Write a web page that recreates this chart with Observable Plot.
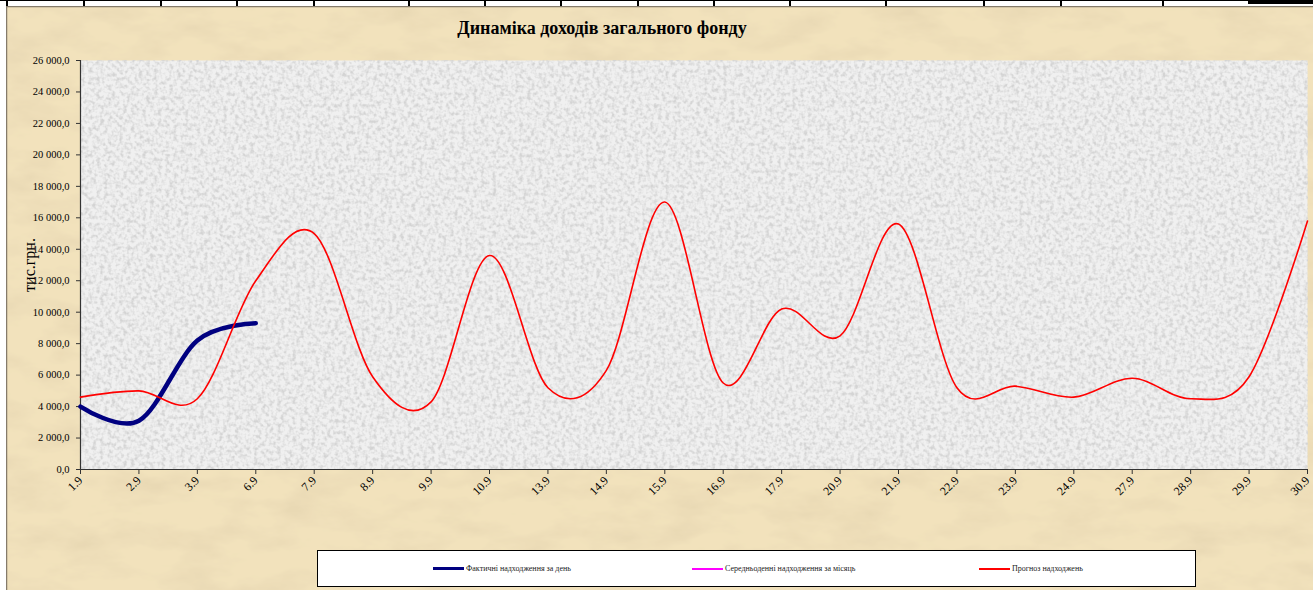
<!DOCTYPE html>
<html>
<head>
<meta charset="utf-8">
<script src="https://cdn.jsdelivr.net/npm/d3@7"></script>
<script src="https://cdn.jsdelivr.net/npm/@observablehq/plot@0.6"></script>
<style>
  html, body { margin: 0; padding: 0; background: #fff; }
  #wrap { position: relative; width: 1313px; height: 590px; overflow: hidden; font-family: "Liberation Serif", "Times New Roman", serif; }
  #bg { position: absolute; left: 0; top: 0; }
  #chart { position: absolute; left: 0; top: 0; }
  #title { position: absolute; left: 0; width: 1204px; top: 18px; text-align: center; font-size: 18px; font-weight: bold; color: #000; }
  #legend { position: absolute; left: 317px; top: 550px; width: 877px; height: 35px; background: #fff; border: 1px solid #000; }
  .li { position: absolute; top: 0; height: 35px; display: flex; align-items: center; font-size: 8px; color: #222; white-space: nowrap; }
  .li span.sw { display: inline-block; width: 31px; margin-right: 2px; }
  #strip { position: absolute; left: 0; top: 0; width: 1313px; height: 6px; background: #fff; }
  #chart svg [aria-label="y-axis label"] text { font-size: 16px; }
</style>
</head>
<body>
<div id="wrap">
  <svg id="bg" width="1313" height="590">
    <defs>
      <filter id="tanTex" filterUnits="userSpaceOnUse" x="0" y="0" width="1313" height="590">
        <feTurbulence type="fractalNoise" baseFrequency="0.018 0.04" numOctaves="4" seed="7" result="n"/>
        <feColorMatrix in="n" type="matrix" values="0 0 0 0 0.80  0 0 0 0 0.68  0 0 0 0 0.45  1.9 0 0 0 -0.78" result="spots"/>
        <feMerge><feMergeNode in="SourceGraphic"/><feMergeNode in="spots"/></feMerge>
      </filter>
      <filter id="greyTex" x="0" y="0" width="1" height="1">
        <feTurbulence type="fractalNoise" baseFrequency="0.26" numOctaves="2" seed="3" result="n"/>
        <feColorMatrix in="n" type="matrix" values="0 0 0 0 0.66  0 0 0 0 0.66  0 0 0 0 0.66  2.8 0 0 0 -1.15" result="spots"/>
        <feMerge><feMergeNode in="SourceGraphic"/><feMergeNode in="spots"/></feMerge>
      </filter>
    </defs>
    <rect x="0" y="0" width="1313" height="590" fill="#F2E2BC" filter="url(#tanTex)"/>
    <line x1="6.5" y1="6" x2="6.5" y2="590" stroke="#857b6b" stroke-width="1.5"/>
    <line x1="6" y1="6.5" x2="1313" y2="6.5" stroke="#857b6b" stroke-width="1.5"/>
    <rect x="0" y="0" width="6" height="590" fill="#fff"/>
  </svg>
  <div id="strip"></div>
  <div id="chart"></div>
  <div id="title">Динаміка доходів загального фонду</div>
  <div id="legend"></div>
</div>
<script>
// ---- data ----
const categories = ["1.9","2.9","3.9","6.9","7.9","8.9","9.9","10.9","13.9","14.9","15.9","16.9","17.9","20.9","21.9","22.9","23.9","24.9","27.9","28.9","29.9","30.9"];
const actualDaily = [4000, 3100, 8200, 9300, null, null, null, null, null, null, null, null, null, null, null, null, null, null, null, null, null, null];
const averageDaily = [null, null, null, null, null, null, null, null, null, null, null, null, null, null, null, null, null, null, null, null, null, null];
const forecast = [4600, 5000, 4500, 12000, 15000, 5900, 4300, 13600, 5200, 6300, 17000, 5500, 10200, 8500, 15600, 5200, 5300, 4600, 5800, 4500, 5900, 15800];
const yTicks = [0, 2000, 4000, 6000, 8000, 10000, 12000, 14000, 16000, 18000, 20000, 22000, 24000, 26000];
const seriesNames = ["Фактичні надходження за день", "Середньоденні надходження за місяць", "Прогноз надходжень"];
const seriesColors = ["#000080", "#FF00FF", "#FF0000"];
const stripTicks = [6, 83, 160, 236, 313, 408, 484, 560, 637, 713, 789, 885, 983, 1060, 1162];

// ---- tables ----
const rows = (vals) => categories.map((c, i) => ({cat: c, v: vals[i]})).filter(d => d.v != null);
const locale = d3.formatLocale({decimal: ",", thousands: " ", grouping: [3], currency: ["", ""]});
const fmt = locale.format(",.1f");

const plot = Plot.plot({
  width: 1313,
  height: 590,
  marginLeft: 80,
  marginRight: 6,
  marginTop: 60,
  marginBottom: 121,
  style: {fontFamily: '"Liberation Serif", "Times New Roman", serif', fontSize: "10.5px", color: "#000", background: "transparent"},
  x: {type: "point", domain: categories, padding: 0, round: false, label: null},
  y: {domain: [0, 26000], label: null},
  marks: [
    Plot.frame({fill: "#F0F0F0", stroke: null}),
    Plot.axisX({tickRotate: -45, tickSize: 5, tickPadding: 4, stroke: "#333", label: null, fontSize: 12}),
    Plot.axisY({ticks: yTicks, tickFormat: fmt, tickSize: 4, tickPadding: 7, stroke: "#333", label: "тис.грн.", labelAnchor: "center", labelArrow: "none", labelOffset: 57}),
    Plot.ruleX([categories[0]], {stroke: "#333", strokeWidth: 1.2}),
    Plot.ruleY([0], {stroke: "#333", strokeWidth: 1.2}),
    Plot.line(rows(averageDaily), {x: "cat", y: "v", stroke: seriesColors[1], strokeWidth: 2, curve: "cardinal"}),
    Plot.line(rows(actualDaily), {x: "cat", y: "v", stroke: seriesColors[0], strokeWidth: 4.5, curve: "cardinal"}),
    Plot.line(rows(forecast), {x: "cat", y: "v", stroke: seriesColors[2], strokeWidth: 1.6, curve: "cardinal"})
  ]
});
document.getElementById("chart").appendChild(plot);
const fr = plot.querySelector('[aria-label="frame"]');
if (fr) {
  const r = fr.tagName.toLowerCase() === "rect" ? fr : fr.querySelector("rect");
  if (r) r.setAttribute("filter", "url(#greyTex)");
}

// ---- legend ----
const legend = document.getElementById("legend");
const legendX = [115, 374, 661];
const legendW = [3, 2, 2];
seriesNames.forEach((name, i) => {
  const d = document.createElement("div");
  d.className = "li";
  d.style.left = legendX[i] + "px";
  const sw = document.createElement("span");
  sw.className = "sw";
  sw.style.height = legendW[i] + "px";
  sw.style.background = seriesColors[i];
  d.appendChild(sw);
  d.appendChild(document.createTextNode(name));
  legend.appendChild(d);
});

// ---- top strip ----
const strip = document.getElementById("strip");
const topLine = document.createElement("div");
topLine.style.cssText = "position:absolute;left:0;top:0;width:1313px;height:1px;background:#000";
strip.appendChild(topLine);
stripTicks.forEach(x => {
  const t = document.createElement("div");
  t.style.cssText = `position:absolute;left:${x}px;top:0;width:2px;height:6px;background:#000`;
  strip.appendChild(t);
});
const box = document.createElement("div");
box.style.cssText = "position:absolute;left:1248px;top:0;width:65px;height:4px;background:#000";
strip.appendChild(box);
</script>
</body>
</html>
